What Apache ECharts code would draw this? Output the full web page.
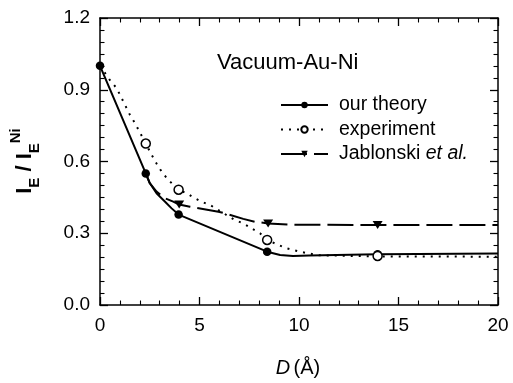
<!DOCTYPE html>
<html>
<head>
<meta charset="utf-8">
<script src="https://cdn.jsdelivr.net/npm/echarts@6/dist/echarts.min.js"></script>
<style>
html,body{margin:0;padding:0;background:#fff;}
#c{width:513px;height:383px;}
</style>
</head>
<body>
<div id="c"></div>
<script>
// ---- data ----
const xTicks = [0, 5, 10, 15, 20];
const yTicks = ['0.0', '0.3', '0.6', '0.9', '1.2'];

const seriesNames = ['our theory', 'experiment', 'Jablonski et al.'];

// measured points (markers)
const markerD = [0, 2.3, 3.95, 8.4, 13.95];
const theoryMarks = [1.0, 0.55, 0.378, 0.223, 0.212];
// the experimental point at D = 0 (1.0) is hidden under the theory marker in the reference
const experimentMarkerD = [2.3, 3.95, 8.4, 13.95];
const experimentMarks = [0.675, 0.482, 0.272, 0.205];
const jabMarkerD = [3.98, 8.45, 13.95];
const jabMarks = [0.42, 0.341, 0.334];

// traced curves
const theoryCurveD = [0, 2.3, 2.5, 2.84, 3.27, 3.6, 3.95, 8.4, 9.05, 9.7, 10.5, 13.95, 20];
const theoryCurveV = [1.0, 0.55, 0.51, 0.467, 0.432, 0.404, 0.378, 0.223, 0.209, 0.205, 0.207, 0.212, 0.215];

const experimentCurveD = [0, 0.5, 0.84, 1.26, 1.51, 1.76, 2.3, 2.6, 2.84, 3.1, 3.43, 3.95, 4.36, 4.69, 5.1, 5.53, 5.95, 6.78, 7.2, 7.62, 8.04, 8.4, 8.96, 9.38, 9.71, 10.05, 10.45, 11, 14, 20];
const experimentCurveV = [1.0, 0.94, 0.906, 0.836, 0.794, 0.76, 0.675, 0.627, 0.592, 0.557, 0.523, 0.482, 0.467, 0.45, 0.432, 0.418, 0.397, 0.355, 0.341, 0.32, 0.30, 0.272, 0.251, 0.237, 0.23, 0.223, 0.216, 0.208, 0.203, 0.202];

const jabCurveD = [2.3, 2.5, 2.84, 3.27, 3.68, 3.98, 4.52, 5.95, 6.28, 7.2, 7.79, 8.45, 9.5, 13.95, 20];
const jabCurveV = [0.55, 0.51, 0.474, 0.446, 0.432, 0.42, 0.411, 0.39, 0.383, 0.36, 0.348, 0.341, 0.336, 0.334, 0.334];

const pairs = (xs, ys) => xs.map((x, i) => [x, ys[i]]);

const FONT = '"Liberation Sans", Arial, Helvetica, sans-serif';
const TRI = 'path://M0,0L10,0L5,9Z';

const chart = echarts.init(document.getElementById('c'), null, {renderer: 'canvas'});

const axisCommon = {
  axisLine: {show: true, onZero: false, lineStyle: {color: '#000', width: 1.5}},
  axisTick: {show: true, inside: true, length: 8, lineStyle: {color: '#000', width: 1.3}},
  minorTick: {show: true, length: 4.5, lineStyle: {color: '#000', width: 1.1}},
  splitLine: {show: false},
  minorSplitLine: {show: false}
};

chart.setOption({
  animation: false,
  backgroundColor: '#fff',
  grid: {left: 100, right: 15, top: 18, bottom: 78, containLabel: false},
  xAxis: [
    Object.assign({
      type: 'value', min: xTicks[0], max: xTicks[xTicks.length - 1], interval: 5, position: 'bottom',
      axisLabel: {show: true, margin: 11, color: '#000', fontSize: 19, fontFamily: FONT}
    }, axisCommon, {minorTick: Object.assign({}, axisCommon.minorTick, {splitNumber: 5})}),
    Object.assign({
      type: 'value', min: xTicks[0], max: xTicks[xTicks.length - 1], interval: 5, position: 'top',
      axisLabel: {show: false}
    }, axisCommon, {minorTick: Object.assign({}, axisCommon.minorTick, {splitNumber: 5})})
  ],
  yAxis: [
    Object.assign({
      type: 'value', min: 0, max: 1.2, interval: 0.3, position: 'left',
      axisLabel: {show: true, margin: 10, color: '#000', fontSize: 19, fontFamily: FONT,
        formatter: v => yTicks[Math.round(v / 0.3)]}
    }, axisCommon, {minorTick: Object.assign({}, axisCommon.minorTick, {splitNumber: 6})}),
    Object.assign({
      type: 'value', min: 0, max: 1.2, interval: 0.3, position: 'right',
      axisLabel: {show: false}
    }, axisCommon, {minorTick: Object.assign({}, axisCommon.minorTick, {splitNumber: 6})})
  ],
  legend: {
    orient: 'vertical', left: 280, top: 95, padding: 0,
    itemWidth: 47, itemHeight: 8, itemGap: 4.5,
    data: seriesNames,
    textStyle: {color: '#000', fontSize: 19.5, fontFamily: FONT, lineHeight: 20, padding: [0, 0, 0, 6],
      rich: {n: {fontSize: 19.5, fontFamily: FONT, color: '#000'},
             i: {fontSize: 19.5, fontFamily: FONT, fontStyle: 'italic', color: '#000'}}},
    formatter: name => name === 'Jablonski et al.' ? '{n|Jablonski }{i|et al.}' : name
  },
  graphic: [
    {type: 'text', x: 217, y: 62.5, silent: true,
      style: {text: 'Vacuum-Au-Ni', fill: '#000', font: '22px ' + FONT, align: 'left', verticalAlign: 'middle'}},
    {type: 'text', x: 298, y: 368, silent: true,
      style: {text: '{d|D} {n|(Å)}', align: 'center', verticalAlign: 'middle', fill: '#000',
        rich: {d: {fontSize: 20, fontFamily: FONT, fontStyle: 'italic', fill: '#000'},
               n: {fontSize: 20, fontFamily: FONT, fill: '#000'}}}},
    {type: 'text', x: 25.2, y: 161, rotation: Math.PI / 2, silent: true,
      style: {text: '{a|I}{s|E}{a| / I}{s|E}{p|Ni}', align: 'center', verticalAlign: 'middle', fill: '#000',
        rich: {
          a: {fontSize: 22, fontWeight: 'bold', fontFamily: FONT, lineHeight: 34, verticalAlign: 'middle', fill: '#000'},
          s: {fontSize: 15, fontWeight: 'bold', fontFamily: FONT, lineHeight: 17, verticalAlign: 'bottom', fill: '#000'},
          p: {fontSize: 15, fontWeight: 'bold', fontFamily: FONT, lineHeight: 18, verticalAlign: 'top', fill: '#000'}
        }}}
  ],
  series: [
    {name: seriesNames[1], type: 'line', data: pairs(experimentCurveD, experimentCurveV),
      symbol: 'emptyCircle', showSymbol: false, smooth: false, silent: true,
      itemStyle: {color: '#000'}, lineStyle: {color: '#000', width: 2, type: [2, 6]}, z: 2},
    {name: seriesNames[2], type: 'line', data: pairs(jabCurveD, jabCurveV),
      symbol: TRI, showSymbol: false, smooth: false, silent: true,
      itemStyle: {color: '#000'}, lineStyle: {color: '#000', width: 2, type: [26, 7]}, z: 3},
    {name: seriesNames[0], type: 'line', data: pairs(theoryCurveD, theoryCurveV),
      symbol: 'circle', showSymbol: false, smooth: false, silent: true,
      itemStyle: {color: '#000'}, lineStyle: {color: '#000', width: 2, type: 'solid'}, z: 4},
    {name: 'jab-points', type: 'scatter', data: pairs(jabMarkerD, jabMarks),
      symbol: TRI, symbolSize: [10, 8], silent: true,
      itemStyle: {color: '#000', opacity: 1}, z: 5},
    {name: 'theory-points', type: 'scatter', data: pairs(markerD, theoryMarks),
      symbol: 'circle', symbolSize: 8.5, silent: true,
      itemStyle: {color: '#000', opacity: 1}, z: 6},
    {name: 'experiment-points', type: 'scatter', data: pairs(experimentMarkerD, experimentMarks),
      symbol: 'circle', symbolSize: 9, silent: true,
      itemStyle: {color: '#fff', borderColor: '#000', borderWidth: 1.5, opacity: 1}, z: 7}
  ]
});
</script>
</body>
</html>
